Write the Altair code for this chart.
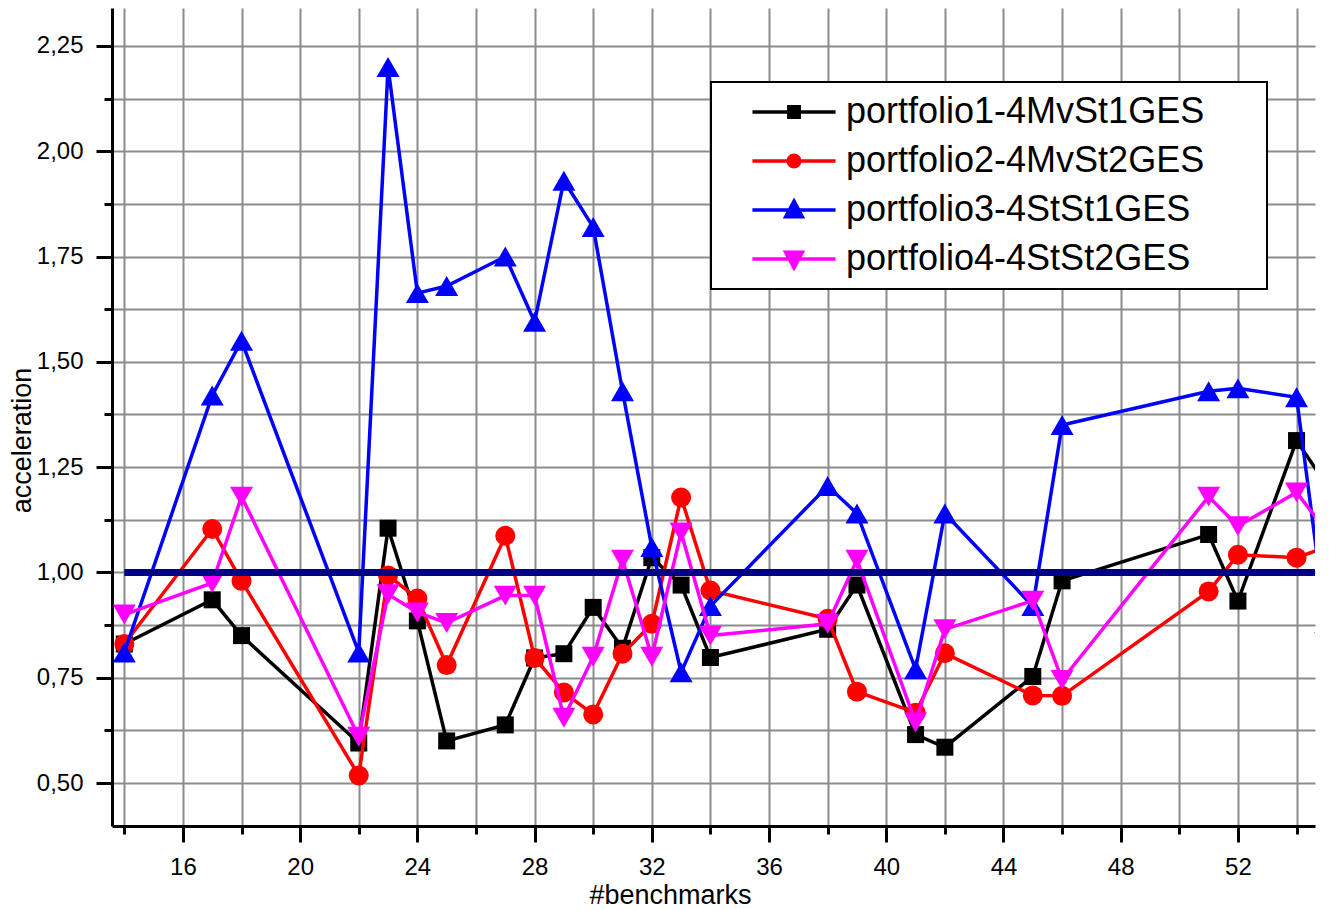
import altair as alt
import pandas as pd

# ---------------- data ----------------
bench = [14, 17, 18, 22, 23, 24, 25, 27, 28, 29, 30, 31, 32, 33, 34, 38, 39, 41, 42, 45, 46, 51, 52, 54, 55]

portfolio1 = [0.83, 0.935, 0.85, 0.595, 1.105, 0.885, 0.60, 0.638, 0.797, 0.807, 0.917, 0.82, 1.035,
              0.97, 0.798, 0.865, 0.97, 0.615, 0.585, 0.753, 0.98, 1.09, 0.932, 1.313, 1.21]
portfolio2 = [0.83, 1.103, 0.98, 0.518, 0.993, 0.938, 0.78, 1.087, 0.797, 0.715, 0.663, 0.807, 0.878,
              1.178, 0.957, 0.89, 0.717, 0.667, 0.808, 0.708, 0.707, 0.955, 1.042, 1.035, 1.06]
portfolio3 = [0.81, 1.42, 1.55, 0.81, 2.20, 1.663, 1.68, 1.75, 1.595, 1.93, 1.82, 1.43, 1.06,
              0.763, 0.92, 1.205, 1.14, 0.77, 1.14, 0.92, 1.35, 1.43, 1.437, 1.416, 0.88]
portfolio4 = [0.90, 0.975, 1.18, 0.61, 0.948, 0.905, 0.88, 0.945, 0.945, 0.655, 0.80, 1.03, 0.80,
              1.095, 0.85, 0.878, 1.03, 0.644, 0.865, 0.933, 0.745, 1.18, 1.11, 1.19, 1.10]

series_names = ["portfolio1-4MvSt1GES", "portfolio2-4MvSt2GES",
                "portfolio3-4StSt1GES", "portfolio4-4StSt2GES"]
series_values = [portfolio1, portfolio2, portfolio3, portfolio4]
series_colors = ["#000000", "#ff0000", "#0000ff", "#ff00ff"]
series_shapes = ["square", "circle", "triangle-up", "triangle-down"]
marker_sizes = [289, 400, 529, 529]

baseline_x = [14, 55]
baseline_y = [1.0, 1.0]

x_major = [16, 20, 24, 28, 32, 36, 40, 44, 48, 52]
x_minor = [14, 16, 18, 20, 22, 24, 26, 28, 30, 32, 34, 36, 38, 40, 42, 44, 46, 48, 50, 52, 54]
y_major = [0.5, 0.75, 1.0, 1.25, 1.5, 1.75, 2.0, 2.25]
y_minor = [0.5, 0.625, 0.75, 0.875, 1.0, 1.125, 1.25, 1.375, 1.5, 1.625, 1.75, 1.875, 2.0, 2.125, 2.25]

# legend symbols: a line segment plus the marker
legend_paths = [
    "M-4,0H4M-0.5,-0.5H0.5V0.5H-0.5Z",
    "M-4,0H4M-0.56,0A0.56,0.56,0,1,1,0.56,0A0.56,0.56,0,1,1,-0.56,0Z",
    "M-4,0H4M0,-0.85L0.8,0.65L-0.8,0.65Z",
    "M-4,0H4M0,0.85L0.8,-0.65L-0.8,-0.65Z",
]

rows = []
for name, vals in zip(series_names, series_values):
    for b, v in zip(bench, vals):
        rows.append({"bench": b, "value": v, "series": name})
df = pd.DataFrame(rows)
base_df = pd.DataFrame({"bench": baseline_x, "value": baseline_y})

FONT = "Liberation Sans"
xscale = alt.Scale(domain=[13.58, 54.63], nice=False, zero=False)
yscale = alt.Scale(domain=[0.398, 2.34], nice=False, zero=False)

x_minor_axis = alt.Axis(values=x_minor, orient="bottom", labels=False, title=None, domain=False,
                        ticks=True, tickSize=8, tickWidth=3, tickColor="black",
                        grid=True, gridColor="#8c8c8c", gridWidth=2)
x_major_axis = alt.Axis(values=x_major, orient="bottom", grid=False, domain=True,
                        domainColor="black", domainWidth=3, tickSize=16, tickWidth=3,
                        tickColor="black", labelFont=FONT, labelFontSize=24, labelColor="black",
                        labelPadding=13, labelFlush=False, labelOverlap=False,
                        title="#benchmarks", titleFont=FONT, titleFontSize=27,
                        titleFontWeight="normal", titleColor="black", titlePadding=3, titleX=558)
y_minor_axis = alt.Axis(values=y_minor, orient="left", labels=False, title=None, domain=False,
                        ticks=True, tickSize=8, tickWidth=3, tickColor="black",
                        grid=True, gridColor="#8c8c8c", gridWidth=2)
y_major_axis = alt.Axis(values=y_major, orient="left", grid=False, domain=True,
                        domainColor="black", domainWidth=3, tickSize=16, tickWidth=3,
                        tickColor="black", labelFont=FONT, labelFontSize=24, labelColor="black",
                        labelPadding=13, labelFlush=False, labelOverlap=False,
                        labelExpr="replace(format(datum.value, '.2f'), '.', ',')",
                        title="acceleration", titleFont=FONT, titleFontSize=27,
                        titleFontWeight="normal", titleColor="black", titlePadding=0, titleY=432)

layers = []
for i, (name, color, shape, msize) in enumerate(zip(series_names, series_colors, series_shapes, marker_sizes)):
    sub = alt.Chart(df).transform_filter(alt.datum.series == name)
    line = sub.mark_line(color=color, strokeWidth=3.5, clip=True).encode(
        x=alt.X("bench:Q", scale=xscale, axis=x_minor_axis if i == 0 else None),
        y=alt.Y("value:Q", scale=yscale, axis=y_minor_axis if i == 0 else None),
        order="bench:Q",
    )
    pts = sub.mark_point(shape=shape, filled=True, size=msize, color=color, opacity=1, clip=True).encode(
        x=alt.X("bench:Q", scale=xscale, axis=x_major_axis if i == 0 else None),
        y=alt.Y("value:Q", scale=yscale, axis=y_major_axis if i == 0 else None),
    )
    layers += [line, pts]

baseline = alt.Chart(base_df).mark_line(color="#000080", strokeWidth=7, clip=True).encode(
    x=alt.X("bench:Q", scale=xscale, axis=None),
    y=alt.Y("value:Q", scale=yscale, axis=None),
)
layers.append(baseline)

# trailing non-breaking spaces (kept from trimming by a zero-width space) widen the box
pad = "\u00a0" * 5 + "\u200b"
legend = alt.Legend(title=None, orient="none", legendX=599, legendY=74, padding=12,
                    rowPadding=13, symbolOffset=53, labelOffset=34, labelFont=FONT,
                    labelFontSize=36, labelColor="black", labelLimit=800,
                    labelExpr="datum.label + '" + pad + "'",
                    fillColor="white", strokeColor="black", symbolSize=432,
                    symbolStrokeWidth=3.5, symbolOpacity=1)

legend_layer = alt.Chart(df).transform_filter("datum.bench < 0").mark_point(
    size=432, strokeWidth=3.5, opacity=1, filled=True).encode(
    x=alt.X("bench:Q", scale=xscale, axis=None),
    y=alt.Y("value:Q", scale=yscale, axis=None),
    fill=alt.Fill("series:N", scale=alt.Scale(domain=series_names, range=series_colors), legend=legend),
    stroke=alt.Stroke("series:N", scale=alt.Scale(domain=series_names, range=series_colors), legend=legend),
    shape=alt.Shape("series:N", scale=alt.Scale(domain=series_names, range=legend_paths), legend=legend),
)
layers.append(legend_layer)

chart = alt.layer(*layers).properties(
    width=1203, height=818,
    autosize=alt.AutoSizeParams(type="none"),
    padding={"left": 104, "top": 0, "right": 9, "bottom": 84},
    background="white",
).resolve_axis(x="independent", y="independent").configure_view(stroke=None).configure_legend(strokeWidth=2)

chart.save("out.html", embed_options={"renderer": "svg", "actions": False})
